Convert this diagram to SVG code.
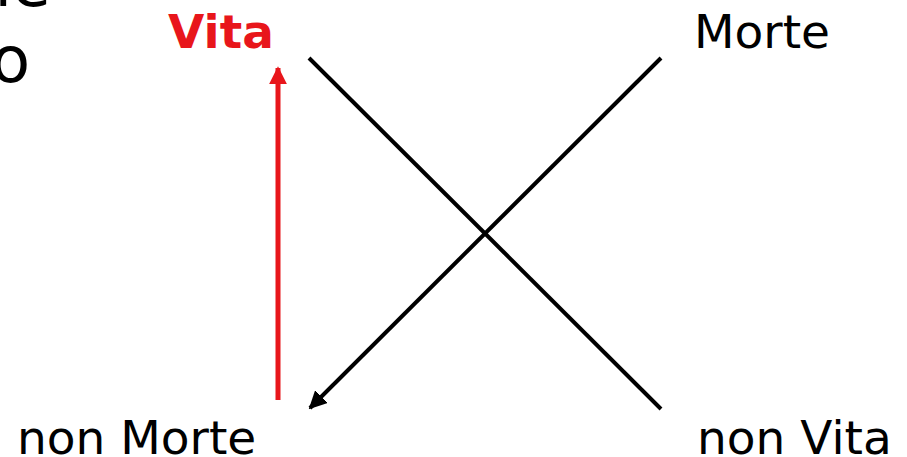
<svg xmlns="http://www.w3.org/2000/svg" width="907" height="457" viewBox="0 0 907 457">
<style>
text{font-family:"DejaVu Sans","Liberation Sans",sans-serif;fill:#000}
.lbl{font-size:47px}
.red{fill:#e8161b;font-weight:bold}
.big{font-size:64px}
</style>
<defs>
<marker id="ah" viewBox="0 0 10 10" refX="9" refY="5" markerWidth="4.5" markerHeight="4.5" markerUnits="strokeWidth" orient="auto"><path d="M0,0L10,5L0,10z" fill="#000"/></marker>
<marker id="ahr" viewBox="0 0 10 10" refX="9" refY="5" markerWidth="3.6" markerHeight="3.6" markerUnits="strokeWidth" orient="auto"><path d="M0,0L10,5L0,10z" fill="#e8161b"/></marker>
</defs>
<rect width="907" height="457" fill="#fff"/>
<g id="fragment"><text class="big" x="-29" y="6">ne</text><text class="big" x="-9" y="82">o</text></g>
<g id="vita"><text class="lbl red" x="168" y="48">Vita</text></g>
<g id="morte"><text class="lbl" x="694" y="48">Morte</text></g>
<g id="nonmorte"><text class="lbl" x="17" y="454">non Morte</text></g>
<g id="nonvita"><text class="lbl" x="697" y="454">non Vita</text></g>
<g id="connectors">
<line x1="278" y1="400" x2="278" y2="68" stroke="#e8161b" stroke-width="5" marker-end="url(#ahr)"/>
<line x1="309" y1="58" x2="661" y2="409" stroke="#000" stroke-width="4"/>
<line x1="661" y1="58" x2="310" y2="408" stroke="#000" stroke-width="4" marker-end="url(#ah)"/>
</g>
</svg>
